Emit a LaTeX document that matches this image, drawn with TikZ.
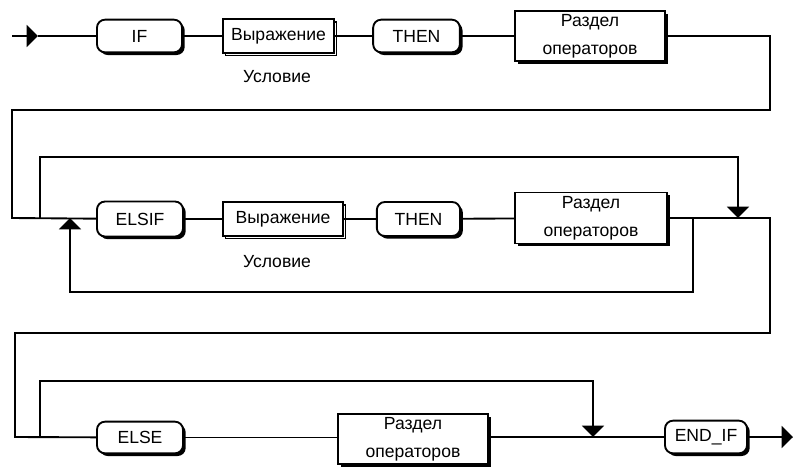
\documentclass[tikz,border=0pt]{standalone}
\usepackage{fontspec}
\setmainfont{Liberation Sans}
\usetikzlibrary{arrows.meta, shadows}

\tikzset{
    kw/.style={draw, fill=white, rounded corners=0.24cm, minimum width=2.55cm,
        minimum height=0.98cm, inner sep=0pt,
        drop shadow={shadow xshift=0.08cm, shadow yshift=-0.08cm, fill=black, opacity=1}},
    expr/.style={draw, fill=white, minimum height=1.0cm, inner sep=0pt,
        general shadow={shadow xshift=0.08cm, shadow yshift=-0.08cm, draw=black,
            fill=white, line width=1.1pt}},
    stmt/.style={draw, fill=white, minimum width=4.5cm, minimum height=1.5cm,
        inner sep=0pt, align=center, font=\fontsize{15pt}{24pt}\selectfont,
        drop shadow={shadow xshift=0.08cm, shadow yshift=-0.08cm, fill=black, opacity=1}},
    tip/.style={-{Triangle[length=0.34cm, width=0.66cm]}}
}

\begin{document}
\begin{tikzpicture}[x=0.03cm, y=-0.03cm, line width=1.6pt,
    font=\fontsize{15pt}{18pt}\selectfont]
    \useasboundingbox (0,0) rectangle (793,466);

    % IF ... THEN
    \coordinate (in) at (12,36);
    \coordinate (inTip) at (38,36);
    \node[kw] (if) at (139.5,36) {IF};
    \node[expr, minimum width=3.33cm] (cond1) at (278.5,36) {Выражение};
    \node (lbl1) at (277,77) {Условие};
    \node[kw, minimum width=2.6cm] (then1) at (416.5,36) {THEN};
    \node[stmt] (stmt1) at (590,36) {Раздел\\операторов};

    \draw[tip] (in) -- (inTip);
    \draw (inTip) -- (if) -- (cond1) -- (then1) -- (stmt1);

    % ELSIF ... THEN
    \node[kw, minimum width=2.58cm, minimum height=1.05cm] (elsif) at (140,219) {ELSIF};
    \node[expr, minimum width=3.6cm] (cond2) at (283,219) {Выражение};
    \node (lbl2) at (277,262) {Условие};
    \node[kw, minimum width=2.5cm, minimum height=1.02cm] (then2) at (418.5,219) {THEN};
    \node[stmt, minimum width=4.56cm, minimum height=1.53cm] (stmt2) at (591,218) {Раздел\\операторов};

    \coordinate (r1) at (770,36);
    \coordinate (r1b) at (770,110);
    \coordinate (l2t) at (12,110);
    \coordinate (l2) at (12,218);
    \draw (stmt1) -- (r1) -- (r1b) -- (l2t) -- (l2) -- (elsif);
    \draw (elsif) -- (cond2) -- (then2) -- (stmt2);

    % skip ELSIF
    \coordinate (b2) at (40,218);
    \coordinate (b2t) at (40,157);
    \coordinate (j2t) at (738,157);
    \coordinate (j2) at (738,218);
    \draw[tip] (b2) -- (b2t) -- (j2t) -- (j2);

    % repeat ELSIF
    \coordinate (rep) at (693,218);
    \coordinate (repb) at (693,292);
    \coordinate (repl) at (70,292);
    \coordinate (rept) at (70,218);
    \draw[tip] (rep) -- (repb) -- (repl) -- (rept);

    % ELSE ... END_IF
    \node[kw, minimum width=2.58cm, minimum height=0.95cm] (else) at (140,437.5) {ELSE};
    \node[stmt] (stmt3) at (413,439) {Раздел\\операторов};
    \node[kw, minimum width=2.46cm] (endif) at (706,437) {END\_IF};

    \coordinate (r2) at (770,218);
    \coordinate (r2b) at (770,333);
    \coordinate (l3t) at (15,333);
    \coordinate (l3) at (15,437);
    \draw (stmt2) -- (r2) -- (r2b) -- (l3t) -- (l3) -- (else);
    \draw (else) -- (else.east -| stmt3.west);
    \draw (stmt3.east |- endif) -- (endif);

    % skip ELSE
    \coordinate (b3) at (40,437);
    \coordinate (b3t) at (40,381);
    \coordinate (j3t) at (593,381);
    \coordinate (j3) at (593,437);
    \draw[tip] (b3) -- (b3t) -- (j3t) -- (j3);

    \coordinate (out) at (793,437);
    \draw[tip] (endif) -- (out);
\end{tikzpicture}
\end{document}
